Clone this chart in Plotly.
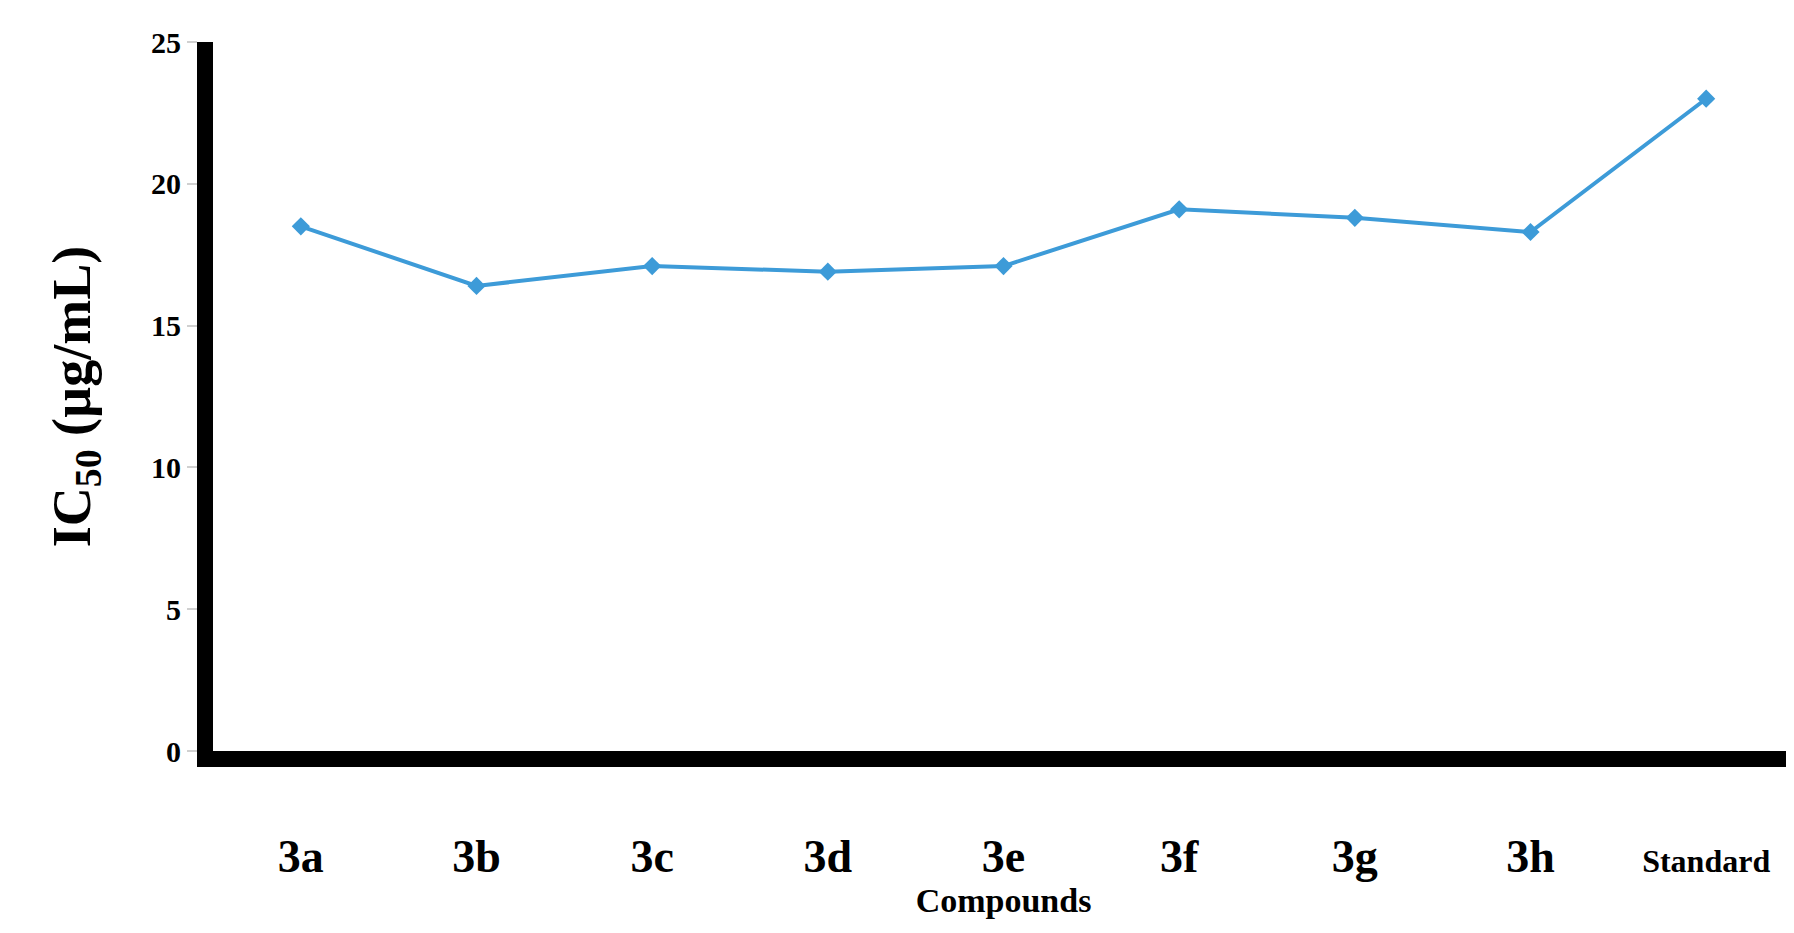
import plotly.graph_objects as go

compounds = ['3a', '3b', '3c', '3d', '3e', '3f', '3g', '3h', 'Standard']
ic50 = [18.5, 16.4, 17.1, 16.9, 17.1, 19.1, 18.8, 18.3, 23.0]
y_ticks = [0, 5, 10, 15, 20, 25]

SERIF = 'Liberation Serif'

fig = go.Figure(go.Scatter(
    x=list(range(len(compounds))),
    y=ic50,
    mode='lines+markers',
    line={'color': '#3d9bd8', 'width': 4},
    marker={'symbol': 'diamond', 'size': 14, 'color': '#3d9bd8'},
    showlegend=False,
))

fig.update_xaxes(
    range=[-0.5, 8.5],
    tickvals=list(range(len(compounds))),
    ticktext=[f'<b>{c}</b>' if c != 'Standard' else '<b><span style="font-size:32px">Standard</span></b>'
              for c in compounds],
    tickfont={'family': SERIF, 'size': 46, 'color': 'black'},
    ticks='', ticklabelstandoff=50,
    showline=True, linecolor='black', linewidth=16,
    showgrid=False, zeroline=False,
    title={'text': '<b>Compounds</b>', 'font': {'family': SERIF, 'size': 34, 'color': 'black'},
           'standoff': 6},
)
fig.update_yaxes(
    range=[0, 25],
    tickvals=y_ticks,
    ticktext=[f'<b>{v}</b>' for v in y_ticks],
    tickfont={'family': SERIF, 'size': 30, 'color': 'black'},
    ticks='outside', ticklen=10, tickcolor='#d0d0d0', tickwidth=2,
    showline=True, linecolor='black', linewidth=16,
    showgrid=False, zeroline=False,
    title={'text': '<b>IC<sub>50</sub> (µg/mL)</b>', 'font': {'family': SERIF, 'size': 54, 'color': 'black'},
           'standoff': 50},
)

fig.update_layout(
    width=1794, height=933,
    plot_bgcolor='white', paper_bgcolor='white',
    margin={'l': 205, 'r': 8, 't': 34, 'b': 190},
)

fig.write_html('out.html')
